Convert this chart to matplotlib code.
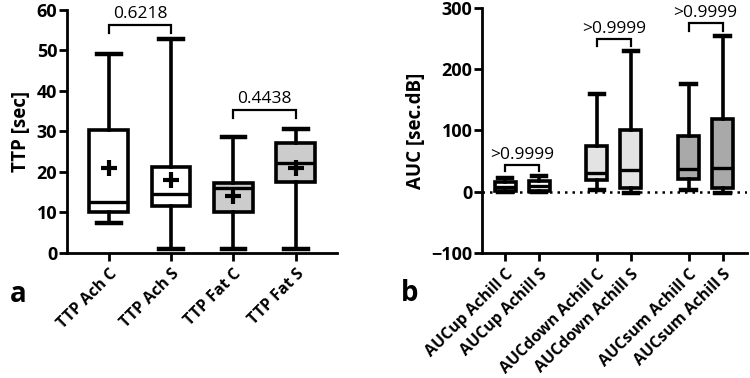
"""Box plots of TTP and AUC (Achilles / fat, control vs. subject)."""
import matplotlib
matplotlib.use("Agg")
import matplotlib.pyplot as plt

plt.rcParams.update({
    "font.family": ["Open Sans", "DejaVu Sans"],
    "axes.linewidth": 2.0,
    "xtick.major.width": 2.0, "ytick.major.width": 2.0,
    "xtick.major.size": 6, "ytick.major.size": 6,
})

# panel a: TTP
ttp_names = ["TTP Ach C", "TTP Ach S", "TTP Fat C", "TTP Fat S"]
ttp_lo = [7.5, 1.0, 1.0, 1.0]
ttp_q1 = [10.2, 11.5, 10.1, 17.6]
ttp_med = [12.6, 14.5, 16.0, 22.2]
ttp_q3 = [30.3, 21.2, 17.2, 27.2]
ttp_hi = [49.2, 52.8, 28.5, 30.6]
ttp_mean = [21.0, 18.0, 14.0, 20.9]
ttp_fill = ["white", "white", "#cccccc", "#cccccc"]
ttp_pairs = [(0, 1, 56.3, 54.3, "0.6218"), (2, 3, 35.3, 33.4, "0.4438")]

# panel b: AUC
auc_names = ["AUCup Achill C", "AUCup Achill S", "AUCdown Achill C",
             "AUCdown Achill S", "AUCsum Achill C", "AUCsum Achill S"]
auc_pos = [0, 1, 2.7, 3.7, 5.4, 6.4]
auc_lo = [0.0, 0.0, 3.0, -2.0, 3.0, -2.0]
auc_q1 = [1.5, 1.5, 19.0, 6.0, 20.0, 6.0]
auc_med = [7.0, 10.0, 30.0, 35.0, 37.0, 39.0]
auc_q3 = [15.0, 17.0, 74.0, 100.0, 91.0, 118.0]
auc_hi = [22.0, 25.0, 160.0, 230.0, 175.0, 254.0]
auc_fill = ["white", "white", "#e3e3e3", "#e3e3e3", "#a9a9a9", "#a9a9a9"]
auc_pairs = [(0, 1, 43.5, 34.0, ">0.9999"), (2, 3, 249.0, 238.0, ">0.9999"),
             (4, 5, 275.0, 262.0, ">0.9999")]


def stats(lo, q1, med, q3, hi, mean=None):
    out = []
    for i in range(len(lo)):
        d = dict(whislo=lo[i], q1=q1[i], med=med[i], q3=q3[i], whishi=hi[i], fliers=[])
        if mean is not None:
            d["mean"] = mean[i]
        out.append(d)
    return out


def draw(ax, st, pos, fills, width, capw, showmeans):
    bp = ax.bxp(st, positions=pos, widths=width, patch_artist=True, showmeans=showmeans,
                showfliers=False, capwidths=capw,
                boxprops=dict(lw=2.6, edgecolor="black"),
                medianprops=dict(color="black", lw=2.4),
                whiskerprops=dict(color="black", lw=2.6),
                capprops=dict(color="black", lw=3.2),
                meanprops=dict(marker="+", markersize=11, markeredgewidth=3,
                               markeredgecolor="black"))
    for patch, c in zip(bp["boxes"], fills):
        patch.set_facecolor(c)
    return bp


def bracket(ax, x0, x1, ytop, ybot, label, dy):
    ax.plot([x0, x0, x1, x1], [ybot, ytop, ytop, ybot], color="black", lw=1.6,
            solid_joinstyle="miter", clip_on=False)
    ax.text((x0 + x1) / 2, ytop + dy, label, ha="center", va="bottom", fontsize=12.5)


def style_axis(ax, names, ylabel):
    ax.set_xticklabels(names, rotation=45, ha="right", rotation_mode="anchor",
                       fontsize=11.5, fontweight="bold")
    ax.tick_params(axis="y", labelsize=13, pad=1)
    for t in ax.get_yticklabels():
        t.set_fontweight("bold")
    ax.set_ylabel(ylabel, fontsize=13.5, fontweight="bold", labelpad=4)
    ax.spines[["top", "right"]].set_visible(False)


fig = plt.figure(figsize=(7.5, 3.78), dpi=100)

# a
ax = fig.add_axes([0.0893, 0.331, 0.36, 0.643])
pos_a = list(range(len(ttp_names)))
draw(ax, stats(ttp_lo, ttp_q1, ttp_med, ttp_q3, ttp_hi, ttp_mean), pos_a, ttp_fill,
     0.62, 0.38, True)
for i, j, yt, yb, lab in ttp_pairs:
    bracket(ax, i, j, yt, yb, lab, 0.8)
ax.set_xlim(-0.67, 3.66)
ax.set_ylim(0, 60)
ax.set_yticks(range(0, 61, 10))
ax.set_xticks(pos_a)
style_axis(ax, ttp_names, "TTP [sec]")

# b
bx = fig.add_axes([0.643, 0.331, 0.353, 0.648])
draw(bx, stats(auc_lo, auc_q1, auc_med, auc_q3, auc_hi), auc_pos, auc_fill,
     0.62, 0.42, False)
bx.axhline(0, color="black", lw=1.8, ls=(0, (1, 2)), zorder=0)
for i, j, yt, yb, lab in auc_pairs:
    bracket(bx, auc_pos[i], auc_pos[j], yt, yb, lab, 4)
bx.set_xlim(-0.68, 7.12)
bx.set_ylim(-100, 300)
bx.set_yticks(range(-100, 301, 100))
bx.set_xticks(auc_pos)
style_axis(bx, auc_names, "AUC [sec.dB]")

fig.text(0.013, 0.2, "a", fontsize=20, fontweight="bold")
fig.text(0.535, 0.205, "b", fontsize=20, fontweight="bold")

fig.savefig("out.png", dpi=100)
